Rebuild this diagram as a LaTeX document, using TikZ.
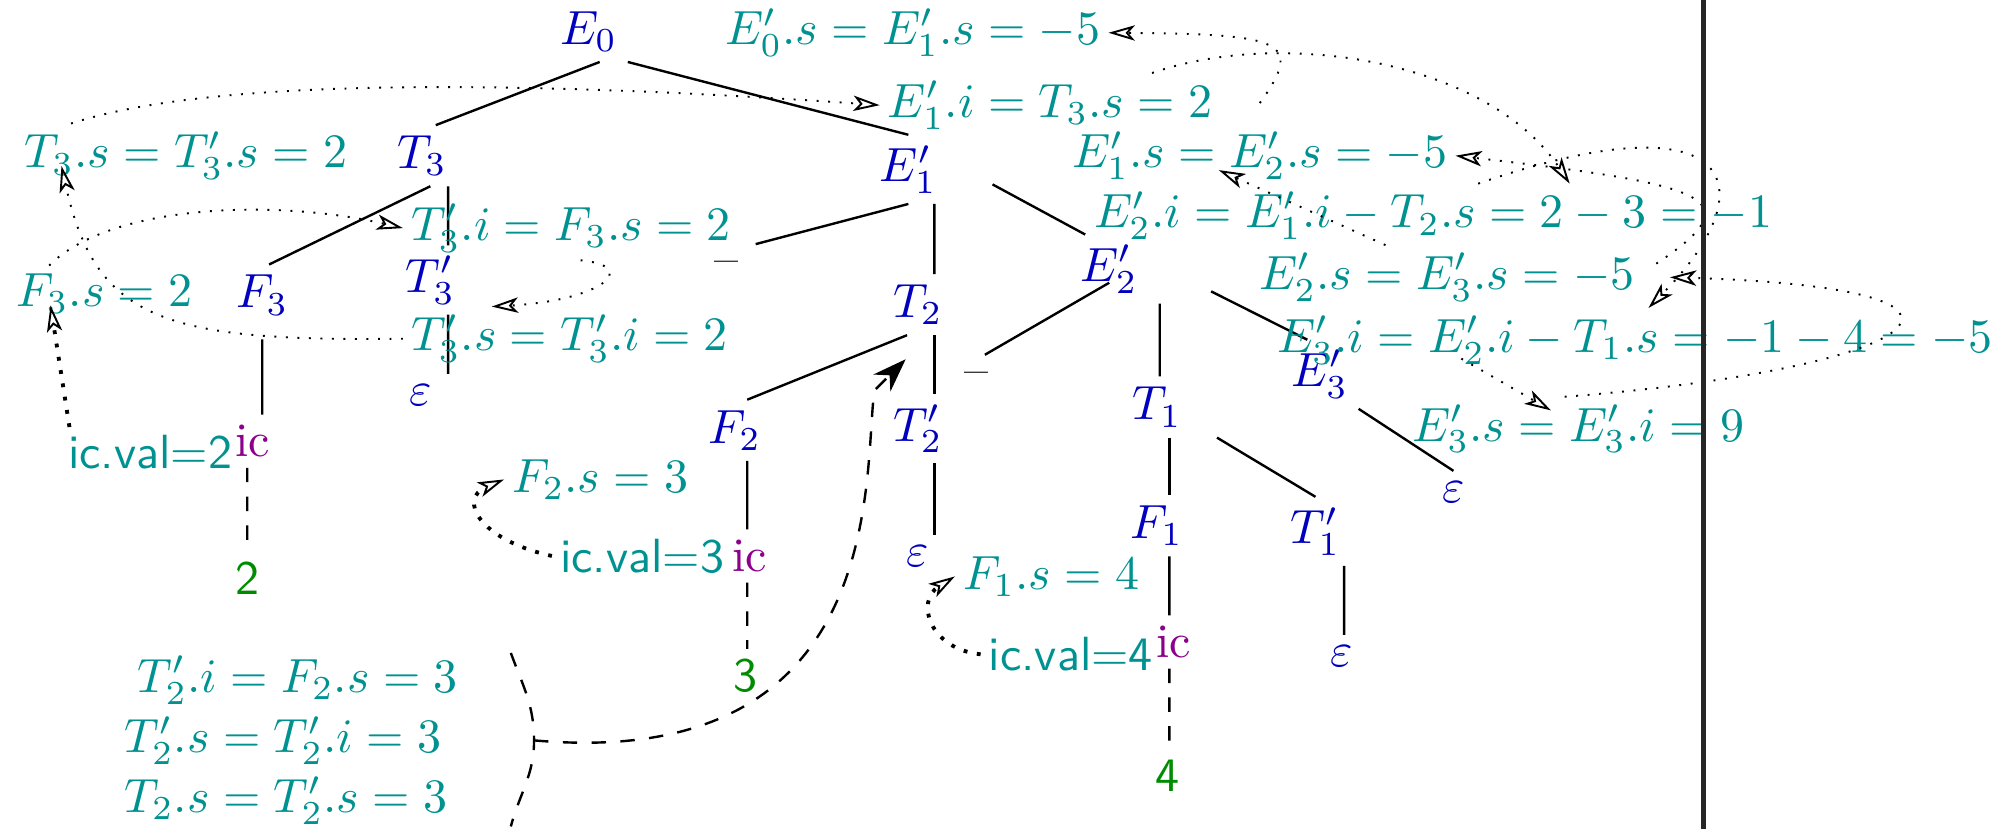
\documentclass[tikz,border=0pt]{standalone}
\usepackage{amsmath}
\usepackage{xcolor}
\usepackage{tikz}
\usetikzlibrary{positioning,arrows.meta,calc}

\definecolor{nodeblue}{RGB}{0,0,190}
\definecolor{annoteal}{RGB}{0,145,145}
\definecolor{icpurple}{RGB}{140,0,140}
\definecolor{numgreen}{RGB}{0,140,0}

\begin{document}
\begin{tikzpicture}[
  tn/.style={text=nodeblue, inner sep=2pt},
  icn/.style={text=icpurple, inner sep=2pt},
  num/.style={text=numgreen, font=\sffamily, inner sep=2pt},
  anno/.style={text=annoteal, inner sep=1.5pt},
  val/.style={text=annoteal, font=\sffamily, inner sep=1.5pt},
  edge/.style={line width=0.5pt},
  lex/.style={line width=0.5pt, dashed},
  dep/.style={dotted, line width=0.4pt, -{Stealth[open, length=5.5pt, width=3.2pt, inset=1.4pt, line width=0.4pt]}},
  lexdep/.style={dotted, line width=0.8pt, -{Stealth[open, length=5.5pt, width=3.2pt, inset=1.4pt, line width=0.4pt]}}
]
  \useasboundingbox (0,0) rectangle (14.59,-6.07);

  % parse tree
  \node[tn] (E0) at (4.31,-0.23) {$E_0$};
  \node[tn] (T3) at (3.09,-1.14) {$T_3$};
  \node[tn] (F3) at (1.92,-2.16) {$F_3$};
  \node[tn] (T3p) at (3.15,-2.05) {$T'_3$};
  \node[tn] (eps3) at (3.08,-2.89) {$\varepsilon$};
  \node[icn] (ic3) at (1.85,-3.23) {ic};
  \node[num] (n2) at (1.81,-4.23) {2};
  \node[tn] (E1p) at (6.65,-1.24) {$E'_1$};
  \node (m1) at (5.32,-1.96) {--};
  \node[tn] (T2) at (6.72,-2.23) {$T_2$};
  \node[tn] (E2p) at (8.12,-1.97) {$E'_2$};
  \node[tn] (F2) at (5.38,-3.15) {$F_2$};
  \node[tn] (T2p) at (6.72,-3.14) {$T'_2$};
  \node[icn] (ic2) at (5.49,-4.07) {ic};
  \node[num] (n3) at (5.46,-4.95) {3};
  \node[tn] (eps2) at (6.72,-4.07) {$\varepsilon$};
  \node (m2) at (7.15,-2.77) {--};
  \node[tn] (T1) at (8.47,-2.98) {$T_1$};
  \node[tn] (E3p) at (9.66,-2.74) {$E'_3$};
  \node[tn] (F1) at (8.47,-3.85) {$F_1$};
  \node[tn] (T1p) at (9.63,-3.89) {$T'_1$};
  \node[tn] (epsE) at (10.64,-3.60) {$\varepsilon$};
  \node[icn] (ic1) at (8.59,-4.70) {ic};
  \node[num] (n4) at (8.55,-5.68) {4};
  \node[tn] (eps1) at (9.82,-4.80) {$\varepsilon$};

  \draw[edge] ([xshift=0.8mm]E0.south) -- ([xshift=1mm]T3.north);
  \draw[edge] (E0.south east) -- (E1p.north);
  \draw[edge] ([xshift=0.6mm]T3.south) -- ([xshift=0.5mm]F3.north);
  \draw[edge] ([xshift=1.9mm]T3.south) -- ([xshift=1.3mm]T3p.north);
  \draw[edge] ([xshift=1.3mm]T3p.south) -- ([xshift=2mm]eps3.north);
  \draw[edge] ([yshift=-1mm]F3.south) -- ([xshift=0.7mm]ic3.north);
  \draw[lex] ([xshift=-0.4mm]ic3.south) -- (n2.north);
  \draw[edge] (E1p.south) -- (m1.north east);
  \draw[edge] ([xshift=1.9mm]E1p.south) -- ([xshift=1.2mm]T2.north);
  \draw[edge] ([shift={(3.3mm,-1.1mm)}]E1p.east) -- ([xshift=1.1mm]E2p.north west);
  \draw[edge] ([xshift=-0.8mm]T2.south) -- ([xshift=0.9mm]F2.north);
  \draw[edge] ([xshift=1.2mm]T2.south) -- ([xshift=1.2mm]T2p.north);
  \draw[edge] ([xshift=1.2mm]T2p.south) -- ([xshift=1.2mm]eps2.north);
  \draw[edge] ([xshift=0.9mm]F2.south) -- ([xshift=-0.2mm]ic2.north);
  \draw[lex] ([xshift=-0.2mm]ic2.south) -- ([xshift=0.1mm]n3.north);
  \draw[edge] ([yshift=-1mm]E2p.center) -- ([xshift=0.6mm]m2.north);
  \draw[edge] ([xshift=3.7mm]E2p.south) -- ([xshift=0.2mm]T1.north);
  \draw[edge] ([shift={(4.6mm,0.9mm)}]E2p.south east) -- ([xshift=-0.9mm]E3p.north);
  \draw[edge] (E3p.south east) -- (epsE.north);
  \draw[edge] ([xshift=0.9mm]T1.south) -- ([xshift=0.9mm]F1.north);
  \draw[edge] ([xshift=1.8mm]T1.south east) -- (T1p.north);
  \draw[edge] ([xshift=0.9mm]F1.south) -- ([xshift=-0.3mm]ic1.north);
  \draw[lex] ([xshift=-0.3mm]ic1.south) -- ([xshift=0.1mm]n4.north);
  \draw[edge] ([xshift=2.1mm]T1p.south) -- ([xshift=0.2mm]eps1.north);

  % attribute values
  \node[anno, anchor=west] (E0s) at (5.25,-0.24) {$E'_0.s = E'_1.s = -5$};
  \node[anno, anchor=west] (E1i) at (6.44,-0.77) {$E'_1.i = T_3.s = 2$};
  \node[anno, anchor=west] (T3s) at (0.12,-1.14) {$T_3.s = T'_3.s = 2$};
  \node[anno, anchor=west] (E1s) at (7.79,-1.14) {$E'_1.s = E'_2.s = -5$};
  \node[anno, anchor=west] (T3i) at (2.95,-1.67) {$T'_3.i = F_3.s = 2$};
  \node[anno, anchor=west] (E2i) at (7.95,-1.58) {$E'_2.i = E'_1.i - T_2.s = 2 - 3 = -1$};
  \node[anno, anchor=west] (F3s) at (0.06,-2.15) {$F_3.s = 2$};
  \node[anno, anchor=west] (E2s) at (9.16,-2.03) {$E'_2.s = E'_3.s = -5$};
  \node[anno, anchor=west] (T3ps) at (2.95,-2.48) {$T'_3.s = T'_3.i = 2$};
  \node[anno, anchor=west] (E3i) at (9.29,-2.49) {$E'_3.i = E'_2.i - T_1.s = -1 - 4 = -5$};
  \node[anno, anchor=west] (E3s) at (10.28,-3.14) {$E'_3.s = E'_3.i = 9$};
  \node[val, anchor=east] (v2) at (1.76,-3.31) {ic.val=2};
  \node[anno, anchor=west] (F2s) at (3.69,-3.51) {$F_2.s = 3$};
  \node[val, anchor=west] (v3) at (4.04,-4.07) {ic.val=3};
  \node[anno, anchor=west] (F1s) at (6.99,-4.22) {$F_1.s = 4$};
  \node[val, anchor=east] (v4) at (8.50,-4.79) {ic.val=4};
  \node[anno, anchor=west] (T2pi) at (0.95,-4.98) {$T'_2.i = F_2.s = 3$};
  \node[anno, anchor=west] (T2ps) at (0.85,-5.42) {$T'_2.s = T'_2.i = 3$};
  \node[anno, anchor=west] (T2s) at (0.85,-5.86) {$T_2.s = T'_2.s = 3$};

  % dependencies
  \draw[dep] ([xshift=4mm]T3s.north west) .. controls (1.6,-0.55) and (4.0,-0.6) .. (E1i.west);
  \draw[dep] ([xshift=-5mm]E1i.north east) .. controls (9.4,-0.2) and (10.9,-0.45) .. ([xshift=1cm]E2i.north);
  \draw[dep] ([yshift=1.5mm]E1s.north) .. controls (9.55,-0.3) and (9.4,-0.25) .. (E0s.east);
  \draw[dep] ([xshift=-4.5mm]E2s.north) -- ([shift={(-3mm,1.3mm)}]E1s.south);
  \draw[dep] ([shift={(1mm,1mm)}]E2s.east) .. controls (12.85,-1.45) and (12.5,-1.35) .. (E1s.east);
  \draw[dep] ([xshift=3.3mm]E2i.north) .. controls (12.68,-0.7) and (12.97,-1.34) .. ([xshift=1mm]E3i.north);
  \draw[dep] ([xshift=-1mm]E3s.north) .. controls (14.1,-2.7) and (14.94,-2.11) .. ([xshift=2mm]E2s.east);
  \draw[dep] ([shift={(-12.7mm,1mm)}]E3i.south) -- ([shift={(-2mm,-1mm)}]E3s.north);
  \draw[dep] (T3ps.west) .. controls (1.2,-2.5) and (0.7,-2.35) .. ([shift={(3.3mm,1.6mm)}]T3s.south west);
  \draw[dep] ([xshift=3mm]F3s.north west) .. controls (0.8,-1.5) and (2.0,-1.45) .. (T3i.west);
  \draw[dep] ([xshift=0.7mm]T3i.south) .. controls (4.7,-1.95) and (4.4,-2.2) .. ([xshift=-5.7mm]T3ps.north);
  \draw[lexdep] ([xshift=0.7mm]v2.north west) -- ([shift={(3.1mm,1.2mm)}]F3s.south west);
  \draw[lexdep] (v3.west) .. controls (3.5,-3.95) and (3.35,-3.65) .. (F2s.west);
  \draw[lexdep] (v4.west) .. controls (6.8,-4.75) and (6.7,-4.4) .. (F1s.west);

  % T_2 subtree brace
  \coordinate (brace) at ([xshift=6.2mm]T2ps.east);
  \coordinate (aim) at ([shift={(-0.9mm,-4mm)}]T2.center);
  \draw[lex] ([shift={(-1.7mm,6.4mm)}]brace) to[out=-70,in=90] (brace) to[out=-90,in=75] ([shift={(-1.7mm,-6.3mm)}]brace);
  \draw[lex, -{Stealth[length=7pt, width=5pt]}] (brace) .. controls (6.5,-5.65) and (6.32,-3.5) .. (6.40,-2.86) -- (aim);

  \draw[line width=0.9pt, black!85] (12.47,0) -- (12.47,-6.07);
\end{tikzpicture}
\end{document}
